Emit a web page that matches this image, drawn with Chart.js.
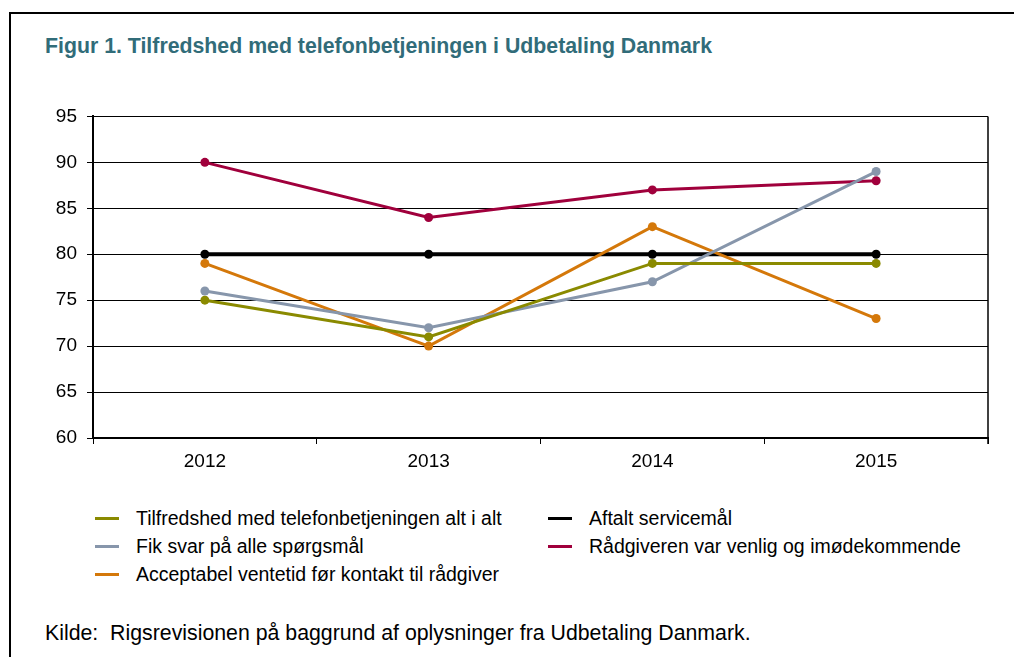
<!DOCTYPE html>
<html>
<head>
<meta charset="utf-8">
<script src="https://cdn.jsdelivr.net/npm/chart.js@4"></script>
<style>
  body { margin: 0; background: #fff; font-family: "Liberation Sans", Arial, sans-serif; }
  #page { position: relative; width: 1014px; height: 657px; overflow: hidden; }
  #frame { position: absolute; left: 9px; top: 12px; width: 1010px; height: 660px;
           border-top: 2px solid #000; border-left: 2px solid #000; }
  #title { position: absolute; left: 45px; top: 34px; font-size: 21.3px; font-weight: bold; color: #316c79; }
  #box { position: absolute; left: 0; top: 95px; width: 1014px; height: 385px; }
  #legend { position: absolute; left: 95px; top: 505px; font-size: 19.5px; color: #000; }
  .item { position: absolute; white-space: nowrap; height: 26px; line-height: 26px; }
  .item span.mark { position: absolute; left: 0; top: 12px; width: 24px; height: 3px; }
  .item span.txt { position: absolute; left: 41px; top: 0; }
  #source { position: absolute; left: 45px; top: 621px; font-size: 21.3px; color: #000; white-space: pre; }
</style>
</head>
<body>
<div id="page">
  <div id="frame"></div>
  <div id="title">Figur 1. Tilfredshed med telefonbetjeningen i Udbetaling Danmark</div>
  <div id="box"><canvas id="myChart"></canvas></div>
  <div id="legend"></div>
  <div id="source">Kilde:  Rigsrevisionen på baggrund af oplysninger fra Udbetaling Danmark.</div>
</div>
<script>
const years = ['2012', '2013', '2014', '2015'];
const y_ticks = [60, 65, 70, 75, 80, 85, 90, 95];

const tilfredshed = [75, 71, 79, 79];
const fik_svar = [76, 72, 77, 89];
const ventetid = [79, 70, 83, 73];
const servicemaal = [80, 80, 80, 80];
const venlig = [90, 84, 87, 88];

const series = [
    { label: 'Tilfredshed med telefonbetjeningen alt i alt', data: tilfredshed, color: '#8a8a00', width: 3, col: 0, row: 0 },
    { label: 'Fik svar på alle spørgsmål', data: fik_svar, color: '#8796ab', width: 3, col: 0, row: 1 },
    { label: 'Acceptabel ventetid før kontakt til rådgiver', data: ventetid, color: '#d4780a', width: 3, col: 0, row: 2 },
    { label: 'Aftalt servicemål', data: servicemaal, color: '#000000', width: 4, col: 1, row: 0 },
    { label: 'Rådgiveren var venlig og imødekommende', data: venlig, color: '#a0003c', width: 3, col: 1, row: 1 }
];

// right edge of the plot box
const rightBorder = {
    id: 'rightBorder',
    afterDraw(chart) {
        const a = chart.chartArea;
        const c = chart.ctx;
        c.save();
        c.strokeStyle = '#000';
        c.lineWidth = 1.5;
        c.beginPath();
        c.moveTo(a.right, a.top);
        c.lineTo(a.right, a.bottom + 6);
        c.stroke();
        c.restore();
    }
};

function draw_chart() {
    const ctx = document.getElementById('myChart');
    const chart = new Chart(ctx, {
        type: 'line',
        data: {
            labels: years,
            datasets: series.map(s => ({
                label: s.label,
                data: s.data,
                borderColor: s.color,
                backgroundColor: s.color,
                borderWidth: s.width,
                pointRadius: 4.5,
                pointHoverRadius: 4.5,
                pointBorderWidth: 0,
                tension: 0
            }))
        },
        options: {
            responsive: true,
            maintainAspectRatio: false,
            animation: false,
            layout: { padding: { left: 0, right: 26, top: 7, bottom: 0 } },
            plugins: {
                legend: { display: false },
                title: { display: false },
                tooltip: { enabled: false }
            },
            scales: {
                x: {
                    offset: true,
                    grid: {
                        offset: true,
                        drawOnChartArea: false,
                        drawTicks: true,
                        tickLength: 6,
                        color: '#000'
                    },
                    border: { display: true, color: '#000', width: 2 },
                    ticks: {
                        color: '#000',
                        font: { family: 'Liberation Sans', size: 19 },
                        padding: 6,
                        maxRotation: 0
                    },
                    afterFit(scale) { scale.height = 42; }
                },
                y: {
                    min: 60,
                    max: 95,
                    afterBuildTicks(scale) { scale.ticks = y_ticks.map(v => ({ value: v })); },
                    grid: {
                        color: '#000',
                        lineWidth: 1,
                        tickLength: 6
                    },
                    border: { display: true, color: '#000', width: 2 },
                    ticks: {
                        color: '#000',
                        font: { family: 'Liberation Sans', size: 19 },
                        padding: 10
                    },
                    afterFit(scale) { scale.width = 93; }
                }
            }
        },
        plugins: [rightBorder]
    });

    // two-column legend built from the chart's datasets
    const legend = document.getElementById('legend');
    chart.data.datasets.forEach((ds, i) => {
        const s = series[i];
        const item = document.createElement('div');
        item.className = 'item';
        item.style.left = (s.col * 453) + 'px';
        item.style.top = (s.row * 28) + 'px';
        const mark = document.createElement('span');
        mark.className = 'mark';
        mark.style.background = ds.borderColor;
        const txt = document.createElement('span');
        txt.className = 'txt';
        txt.textContent = ds.label;
        item.appendChild(mark);
        item.appendChild(txt);
        legend.appendChild(item);
    });
}
draw_chart();
</script>
</body>
</html>
